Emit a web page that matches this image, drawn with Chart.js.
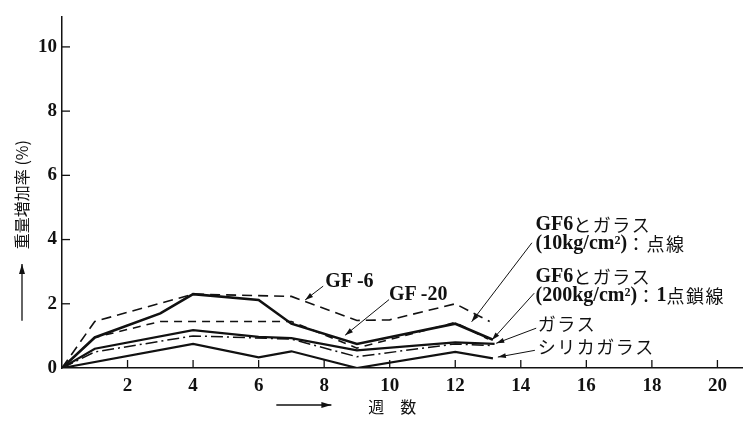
<!DOCTYPE html>
<html><head><meta charset="utf-8">
<script src="https://cdn.jsdelivr.net/npm/chart.js@4.4.0/dist/chart.umd.min.js"></script>
<style>html,body{margin:0;padding:0;background:#fff;}#wrap{width:745px;height:423px;position:relative}</style>
</head><body><div id="wrap"><canvas id="c" width="745" height="423"></canvas></div>
<script>
// ---- data (weeks, weight increase %) ----
const weeksGF6 = [0, 1, 4, 7, 9, 10, 12, 13.05];
const valuesGF6 = [0, 1.45, 2.3, 2.23, 1.48, 1.5, 2.0, 1.45];

const weeksGF20 = [0, 1, 3, 4, 6, 7, 9, 12, 13.15];
const valuesGF20 = [0, 0.95, 1.7, 2.3, 2.12, 1.38, 0.75, 1.38, 0.88];

const weeks10kg = [0, 1, 3, 7, 9, 12, 13];
const values10kg = [0, 0.95, 1.45, 1.45, 0.62, 1.42, 0.9];

const weeks200kg = [0, 1, 4, 7, 9, 12, 13.1];
const values200kg = [0, 0.5, 1.0, 0.9, 0.35, 0.75, 0.7];

const weeksGlass = [0, 1, 4, 6, 7, 9, 12, 13.2];
const valuesGlass = [0, 0.6, 1.18, 0.97, 0.93, 0.55, 0.8, 0.75];

const weeksSilica = [0, 4, 6, 7, 9, 12, 13.15];
const valuesSilica = [0, 0.75, 0.33, 0.52, 0, 0.5, 0.3];

const xTickValues = [2, 4, 6, 8, 10, 12, 14, 16, 18, 20];
const yTickValues = [0, 2, 4, 6, 8, 10];

const yTitle = '重量増加率 (%)';
const xTitle = '週　数';

// annotation labels: text lines, text anchor (data units), leader start/end (data units)
const annotations = [
  {lines: ['GF\u2009-6'], at: [8.77, 2.68], align: 'center', from: [7.97, 2.55], to: [7.42, 2.12]},
  {lines: ['GF\u2009-20'], at: [10.87, 2.28], align: 'center', from: [9.98, 2.13], to: [8.64, 1.02]},
  {lines: ['GF6とガラス', '(10kg/cm²)：点線'], at: [14.45, 4.45], align: 'left', from: [14.34, 3.9], to: [12.5, 1.44]},
  {lines: ['GF6とガラス', '(200kg/cm²)：1点鎖線'], at: [14.45, 2.83], align: 'left', from: [14.41, 2.33], to: [13.12, 0.87]},
  {lines: ['ガラス'], at: [14.52, 1.38], align: 'left', from: [14.47, 1.24], to: [13.25, 0.77]},
  {lines: ['シリカガラス'], at: [14.52, 0.64], align: 'left', from: [14.43, 0.55], to: [13.3, 0.34]}
];

const toPts = (xs, ys) => xs.map((x, i) => ({x: x, y: ys[i]}));
const INK = '#111';
const LATIN_FONT = 'bold 20px "Liberation Serif", serif';
const CJK_FONT = '18px "Noto Sans CJK JP", sans-serif';
const CJK_GAP = 1.5;

function isLatin(ch) { return ch.charCodeAt(0) < 0x2100 || ch === '²'; }
function runs(text) {
  const out = [];
  for (const ch of text) {
    const lat = isLatin(ch);
    if (out.length && out[out.length - 1].lat === lat) out[out.length - 1].t += ch;
    else out.push({t: ch, lat});
  }
  return out;
}
function mixedWidth(ctx, text) {
  let w = 0;
  runs(text).forEach(r => {
    if (r.lat) { ctx.font = LATIN_FONT; w += ctx.measureText(r.t).width; }
    else { ctx.font = CJK_FONT; for (const ch of r.t) w += ctx.measureText(ch).width + CJK_GAP; }
  });
  return w;
}
function drawMixed(ctx, text, x, y, align) {
  const w = mixedWidth(ctx, text);
  let cx = align === 'center' ? x - w / 2 : x;
  ctx.textAlign = 'left';
  runs(text).forEach(r => {
    if (r.lat) { ctx.font = LATIN_FONT; ctx.fillText(r.t, cx, y); cx += ctx.measureText(r.t).width; }
    else { ctx.font = CJK_FONT; for (const ch of r.t) { ctx.fillText(ch, cx, y); cx += ctx.measureText(ch).width + CJK_GAP; } }
  });
}

function arrowHead(ctx, x1, y1, x2, y2, len, half) {
  const a = Math.atan2(y2 - y1, x2 - x1);
  ctx.beginPath();
  ctx.moveTo(x2, y2);
  ctx.lineTo(x2 - len * Math.cos(a) + half * Math.sin(a), y2 - len * Math.sin(a) - half * Math.cos(a));
  ctx.lineTo(x2 - len * Math.cos(a) - half * Math.sin(a), y2 - len * Math.sin(a) + half * Math.cos(a));
  ctx.closePath();
  ctx.fill();
}

const decor = {
  id: 'decor',
  afterDraw(chart) {
    const ctx = chart.ctx, xs = chart.scales.x, ys = chart.scales.y, ca = chart.chartArea;
    ctx.save();
    ctx.strokeStyle = INK; ctx.fillStyle = INK; ctx.lineWidth = 1.3;
    // inward tick marks
    yTickValues.forEach(v => { if (v === 0) return; const p = ys.getPixelForValue(v);
      ctx.beginPath(); ctx.moveTo(ca.left, p); ctx.lineTo(ca.left + 8, p); ctx.stroke(); });
    xTickValues.forEach(v => { const p = xs.getPixelForValue(v);
      ctx.beginPath(); ctx.moveTo(p, ca.bottom); ctx.lineTo(p, ca.bottom - 8); ctx.stroke(); });
    // annotations
    ctx.textBaseline = 'middle';
    annotations.forEach(a => {
      const tx = xs.getPixelForValue(a.at[0]), ty = ys.getPixelForValue(a.at[1]);
      a.lines.forEach((t, i) => drawMixed(ctx, t, tx, ty + i * 19, a.align));
      const x1 = xs.getPixelForValue(a.from[0]), y1 = ys.getPixelForValue(a.from[1]);
      const x2 = xs.getPixelForValue(a.to[0]), y2 = ys.getPixelForValue(a.to[1]);
      ctx.lineWidth = 1;
      ctx.beginPath(); ctx.moveTo(x1, y1); ctx.lineTo(x2, y2); ctx.stroke();
      arrowHead(ctx, x1, y1, x2, y2, 8, 2.5);
    });
    // y axis title (rotated) with up arrow
    const yc = ca.left - 40;
    ctx.save();
    ctx.translate(yc, ys.getPixelForValue(5.4));
    ctx.rotate(-Math.PI / 2);
    ctx.font = '16px "Noto Sans CJK JP", sans-serif';
    ctx.textAlign = 'center';
    ctx.fillText(yTitle, 0, 0);
    ctx.restore();
    const ay1 = ys.getPixelForValue(1.47), ay2 = ys.getPixelForValue(3.24);
    ctx.lineWidth = 1.3;
    ctx.beginPath(); ctx.moveTo(yc, ay1); ctx.lineTo(yc, ay2); ctx.stroke();
    arrowHead(ctx, yc, ay1, yc, ay2, 10, 3);
    // x axis title with right arrow
    const xty = ca.bottom + 38.5;
    ctx.font = '16px "Noto Sans CJK JP", sans-serif';
    ctx.textAlign = 'center';
    ctx.fillText(xTitle, xs.getPixelForValue(10.08), xty);
    const ax1 = xs.getPixelForValue(6.54), ax2 = xs.getPixelForValue(8.22);
    ctx.beginPath(); ctx.moveTo(ax1, xty - 1.5); ctx.lineTo(ax2, xty - 1.5); ctx.stroke();
    arrowHead(ctx, ax1, xty - 1.5, ax2, xty - 1.5, 10, 3);
    ctx.restore();
  }
};

const ds = (label, xs, ys, width, dash) => ({
  label, data: toPts(xs, ys), borderColor: INK, borderWidth: width, borderDash: dash,
  pointRadius: 0, tension: 0, fill: false, borderJoinStyle: 'miter'
});

new Chart(document.getElementById('c'), {
  type: 'line',
  data: {
    datasets: [
      ds('GF-6', weeksGF6, valuesGF6, 1.6, [10, 6]),
      ds('GF-20', weeksGF20, valuesGF20, 2.6, []),
      ds('GF6とガラス(10kg/cm²)', weeks10kg, values10kg, 1.5, [8, 6]),
      ds('GF6とガラス(200kg/cm²)', weeks200kg, values200kg, 1.5, [12, 4, 2, 4]),
      ds('ガラス', weeksGlass, valuesGlass, 2.2, []),
      ds('シリカガラス', weeksSilica, valuesSilica, 2.2, [])
    ]
  },
  options: {
    responsive: false, animation: false, devicePixelRatio: 1,
    layout: {padding: {top: 10, right: 3, left: 0, bottom: 0}},
    plugins: {legend: {display: false}, tooltip: {enabled: false}},
    scales: {
      x: {
        type: 'linear', min: 0, max: 20.75,
        afterBuildTicks: s => { s.ticks = xTickValues.map(v => ({value: v})); },
        afterFit: s => { s.height = 55; },
        grid: {display: false, drawTicks: false},
        border: {display: true, color: INK, width: 1.5},
        ticks: {color: INK, padding: 7, maxRotation: 0, autoSkip: false,
          font: {family: '"Liberation Serif", serif', size: 19, weight: 'bold'}}
      },
      y: {
        min: 0, max: 10.95,
        afterBuildTicks: s => { s.ticks = yTickValues.map(v => ({value: v})); },
        afterFit: s => { s.width = 62; },
        grid: {display: false, drawTicks: false},
        border: {display: true, color: INK, width: 1.5},
        ticks: {color: INK, padding: 5, autoSkip: false,
          font: {family: '"Liberation Serif", serif', size: 19, weight: 'bold'}}
      }
    }
  },
  plugins: [decor]
});
</script></body></html>
